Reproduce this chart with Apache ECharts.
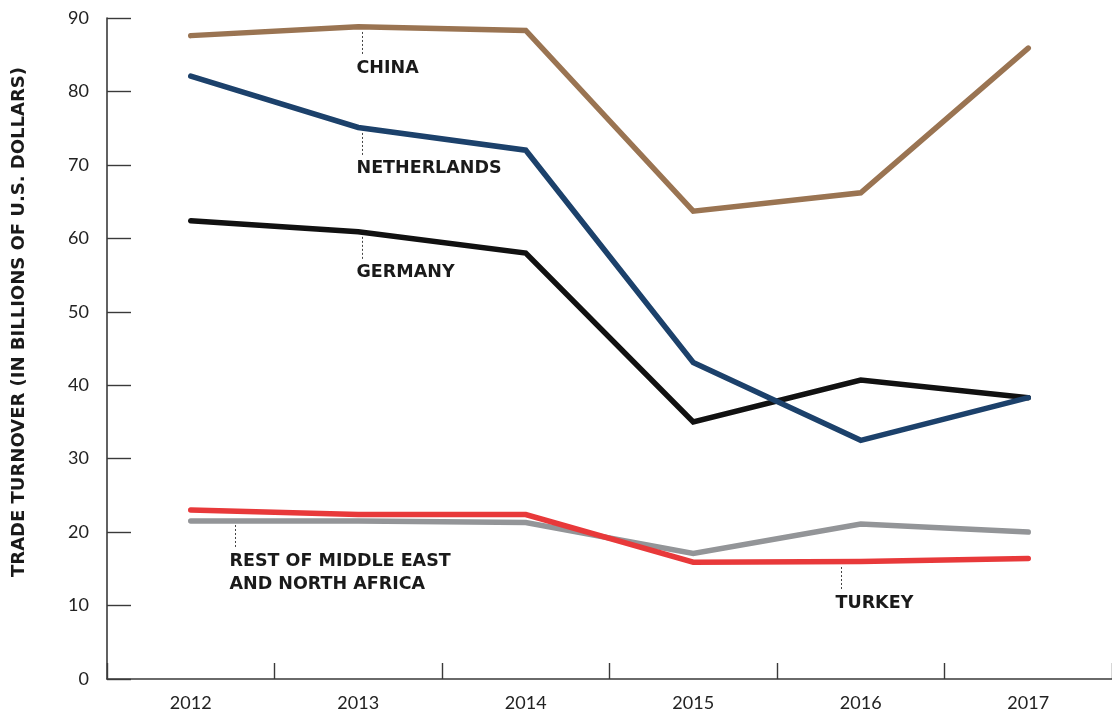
<!DOCTYPE html>
<html>
<head>
<meta charset="utf-8">
<script src="https://cdn.jsdelivr.net/npm/echarts@6/dist/echarts.min.js"></script>
<style>
html,body{margin:0;padding:0;background:#fff;}
#chart{width:1112px;height:713px;}
</style>
</head>
<body>
<div id="chart"></div>
<script>
// ---- data ----
const years = ['2012','2013','2014','2015','2016','2017'];
const yTicks = [0,10,20,30,40,50,60,70,80,90];
const china = [87.6, 88.8, 88.3, 63.7, 66.2, 85.9];
const netherlands = [82.1, 75.1, 72.0, 43.1, 32.5, 38.3];
const germany = [62.4, 60.9, 58.0, 35.0, 40.7, 38.3];
const turkey = [23.0, 22.4, 22.4, 15.9, 16.0, 16.4];
const restMENA = [21.5, 21.5, 21.3, 17.1, 21.1, 20.0];
const seriesNames = ['Rest of Middle East and North Africa','Turkey','Germany','Netherlands','China'];
const labelTexts = ['CHINA','NETHERLANDS','GERMANY','REST OF MIDDLE EAST\nAND NORTH AFRICA','TURKEY'];
const yTitle = 'TRADE TURNOVER (IN BILLIONS OF U.S. DOLLARS)';

// annotation anchors (category position as fractional index, value at top of leader)
const annos = [
  {text: labelTexts[0], idx: 1.024, val: 88.1},
  {text: labelTexts[1], idx: 1.024, val: 74.35},
  {text: labelTexts[2], idx: 1.024, val: 60.2},
  {text: labelTexts[3], idx: 0.262, val: 20.97},
  {text: labelTexts[4], idx: 3.88,  val: 15.25}
];

const colors = {china:'#9a7452', neth:'#1c416b', ger:'#111111', tur:'#e8393a', mena:'#939598'};
const FONT = 'Lato, "Open Sans", sans-serif';
const LFONT = '"DejaVu Sans", sans-serif';

const chart = echarts.init(document.getElementById('chart'), null, {renderer:'canvas'});

function lineSeries(name, data, color){
  return {
    name, type:'line', data, symbol:'none', smooth:false,
    lineStyle:{color, width:5.5, cap:'round', join:'miter'},
    emphasis:{disabled:true}, silent:true
  };
}

const option = {
  animation:false,
  backgroundColor:'#ffffff',
  grid:{left:107, right:-3, top:18, bottom:34, containLabel:false},
  xAxis:{
    type:'category', data:years, boundaryGap:true,
    axisLine:{show:true, lineStyle:{color:'#3a3a3a', width:1.6}},
    axisTick:{show:true, inside:true, length:16, lineStyle:{color:'#3a3a3a', width:1.4}},
    axisLabel:{fontSize:18, color:'#222', margin:15, fontFamily:FONT},
    splitLine:{show:false}
  },
  yAxis:{
    type:'value', min:yTicks[0], max:yTicks[yTicks.length-1], interval:10,
    axisLine:{show:true, lineStyle:{color:'#3a3a3a', width:1.6}},
    axisTick:{show:true, inside:true, length:24, lineStyle:{color:'#3a3a3a', width:1.4}},
    axisLabel:{fontSize:18, color:'#222', margin:18, fontFamily:FONT},
    splitLine:{show:false}
  },
  series:[
    lineSeries(seriesNames[0], restMENA, colors.mena),
    lineSeries(seriesNames[1], turkey, colors.tur),
    lineSeries(seriesNames[2], germany, colors.ger),
    lineSeries(seriesNames[3], netherlands, colors.neth),
    lineSeries(seriesNames[4], china, colors.china)
  ]
};
chart.setOption(option);

function idxToPx(idx){
  const p0 = chart.convertToPixel({xAxisIndex:0}, years[0]);
  const p1 = chart.convertToPixel({xAxisIndex:0}, years[1]);
  return p0 + idx*(p1-p0);
}
const LH = 23;
const graphics = [];
annos.forEach(a => {
  const x = Math.round(idxToPx(a.idx)) + 0.5;
  const y = chart.convertToPixel({yAxisIndex:0}, a.val);
  const nLines = a.text.split('\n').length;
  graphics.push({
    type:'line', silent:true,
    shape:{x1:x, y1:y, x2:x, y2:y + 22},
    style:{stroke:'#444', lineWidth:1, lineDash:[2,2]}
  });
  graphics.push({
    type:'text', silent:true,
    x: x - 6, y: y + 36 + (nLines - 1) * LH / 2,
    style:{text:a.text, fill:'#1a1a1a', font:'bold 17.5px ' + LFONT, textAlign:'left', textVerticalAlign:'middle', lineHeight:LH}
  });
});
graphics.push({
  type:'text', silent:true, x:19, y:322, rotation:Math.PI/2,
  style:{text:yTitle, fill:'#1a1a1a', font:'bold 18px ' + LFONT, textAlign:'center', textVerticalAlign:'middle'}
});
chart.setOption({graphic:graphics});
</script>
</body>
</html>
